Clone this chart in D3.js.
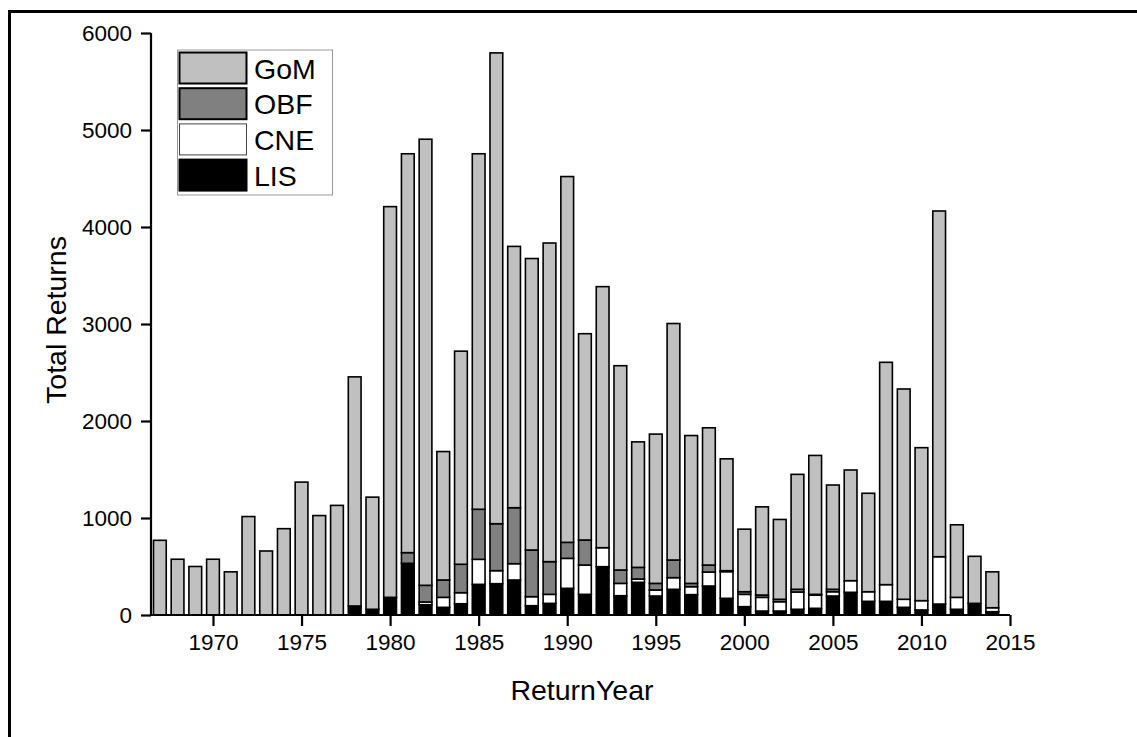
<!DOCTYPE html>
<html>
<head>
<meta charset="utf-8">
<script src="https://cdn.jsdelivr.net/npm/d3@7"></script>
<style>
  body { margin: 0; background: #fff; }
  svg { display: block; font-family: "Liberation Sans", Arial, sans-serif; }
</style>
</head>
<body>
<svg id="chart" width="1137" height="737"></svg>
<script>
// data
const years = d3.range(1967, 2015);
const LIS = [0, 0, 0, 0, 0, 0, 0, 0, 0, 0, 0, 93, 59, 182, 533, 106, 79, 116, 316, 323,
  361, 96, 120, 275, 213, 498, 199, 337, 196, 265, 210, 299, 172, 86, 41, 41, 59, 69,
  196, 234, 141, 141, 79, 52, 113, 59, 120, 34];
const CNE = [0, 0, 0, 0, 0, 0, 0, 0, 0, 0, 0, 0, 0, 0, 0, 28, 103, 114, 258, 134,
  168, 93, 93, 309, 302, 196, 127, 34, 62, 120, 82, 144, 275, 127, 141, 96, 178, 137,
  44, 120, 99, 172, 83, 96, 488, 123, 0, 41];
const OBF = [0, 0, 0, 0, 0, 0, 0, 0, 0, 0, 0, 0, 0, 0, 110, 172, 179, 293, 516, 484,
  577, 481, 337, 165, 258, 0, 138, 120, 68, 182, 34, 72, 10, 27, 24, 25, 28, 7,
  25, 0, 0, 0, 0, 0, 0, 0, 0, 0];
const GoM = [770, 575, 500, 575, 445, 1015, 660, 890, 1370, 1025, 1130, 2362, 1156, 4028, 4112, 4599, 1324, 2197, 3665, 4854,
  2694, 3005, 3285, 3771, 2127, 2691, 2106, 1294, 1539, 2438, 1524, 1415, 1153, 645, 909, 823, 1185, 1432,
  1075, 1141, 1015, 2292, 2168, 1577, 3564, 748, 485, 370];

const seriesNames = ["LIS", "CNE", "OBF", "GoM"];
const legendOrder = ["GoM", "OBF", "CNE", "LIS"];
const colors = { GoM: "#c0c0c0", OBF: "#808080", CNE: "#ffffff", LIS: "#000000" };
const yTicks = [0, 1000, 2000, 3000, 4000, 5000, 6000];
const xTicks = [1970, 1975, 1980, 1985, 1990, 1995, 2000, 2005, 2010, 2015];

const svg = d3.select("#chart");

// outer frame (cut off right and bottom like the source image)
svg.append("rect")
    .attr("x", 9.5).attr("y", 11.5)
    .attr("width", 1300).attr("height", 900)
    .attr("fill", "none")
    .attr("stroke", "#000")
    .attr("stroke-width", 3);

const x = d3.scaleLinear().domain([1966.5, 2015]).range([151, 1010]);
const y = d3.scaleLinear().domain([0, 6000]).range([615, 33]);

const table = years.map((yr, i) => ({ year: yr, LIS: LIS[i], CNE: CNE[i], OBF: OBF[i], GoM: GoM[i] }));
const stacked = d3.stack().keys(seriesNames)(table);

const step = x(1968) - x(1967);
const barW = step * 0.72;

const bars = svg.append("g");
stacked.forEach(layer => {
    bars.append("g")
        .selectAll("rect")
        .data(layer.filter(d => d[1] > d[0]))
        .enter()
        .append("rect")
        .attr("x", d => x(d.data.year) - barW / 2)
        .attr("y", d => y(d[1]))
        .attr("width", barW)
        .attr("height", d => y(d[0]) - y(d[1]))
        .attr("fill", colors[layer.key])
        .attr("stroke", "#000")
        .attr("stroke-width", 1.6);
});

// y axis
const yAxis = svg.append("g").attr("transform", "translate(151,0)");
yAxis.call(d3.axisLeft(y).tickValues(d3.range(500, 6000, 1000)).tickSize(5).tickFormat(""));
yAxis.call(d3.axisLeft(y).tickValues(yTicks).tickSize(10).tickPadding(9).tickFormat(d3.format("d")));
yAxis.selectAll("path, line").attr("stroke", "#000").attr("stroke-width", 2.2);
yAxis.select(".domain").attr("d", "M0," + y(6000) + "V" + y(0));
yAxis.selectAll("text").attr("font-size", 22.5).attr("fill", "#000")
    .style("font-family", "'Liberation Sans', Arial, sans-serif");

// x axis
const xAxis = svg.append("g").attr("transform", "translate(0,615)");
xAxis.call(d3.axisBottom(x).tickValues(years).tickSize(6).tickFormat(""));
xAxis.call(d3.axisBottom(x).tickValues(xTicks).tickSize(11).tickPadding(8).tickFormat(d3.format("d")));
xAxis.selectAll("path, line").attr("stroke", "#000").attr("stroke-width", 2.2);
xAxis.select(".domain").attr("d", "M" + x(1966.5) + ",0H" + x(2015));
xAxis.selectAll("text").attr("font-size", 22.5).attr("fill", "#000")
    .style("font-family", "'Liberation Sans', Arial, sans-serif");

// axis titles
svg.append("text")
    .attr("transform", "translate(66,320) rotate(-90)")
    .attr("text-anchor", "middle")
    .attr("font-size", 28.5)
    .text("Total Returns");

svg.append("text")
    .attr("x", 582).attr("y", 700)
    .attr("text-anchor", "middle")
    .attr("font-size", 28.5)
    .text("ReturnYear");

// legend
const legend = svg.append("g").attr("transform", "translate(178,50)");
legend.append("rect")
    .attr("x", -0.5).attr("y", 0)
    .attr("width", 155).attr("height", 145)
    .attr("fill", "none")
    .attr("stroke", "#999")
    .attr("stroke-width", 1);
legendOrder.forEach((name, i) => {
    const top = 2.5 + i * 35.7;
    legend.append("rect")
        .attr("x", 1.5).attr("y", top)
        .attr("width", 67).attr("height", 31)
        .attr("fill", colors[name])
        .attr("stroke", name === "CNE" ? "#444" : "#000")
        .attr("stroke-width", name === "CNE" ? 1 : 2);
    legend.append("text")
        .attr("x", 76).attr("y", top + 26)
        .attr("font-size", 28.5)
        .text(name);
});
</script>
</body>
</html>
